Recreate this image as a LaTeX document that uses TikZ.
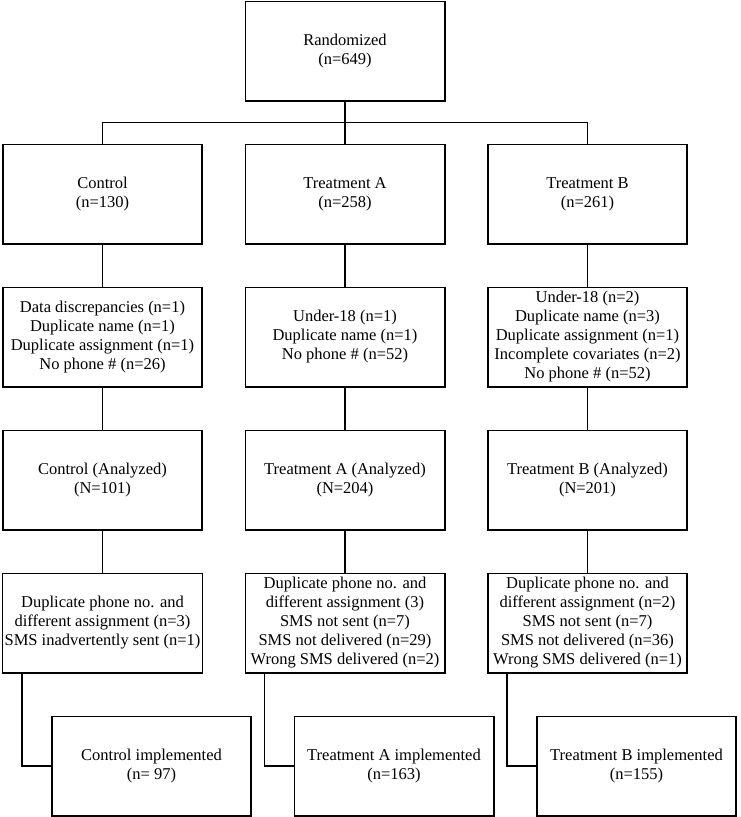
\documentclass[tikz,border=0pt]{standalone}
\usepackage{fontspec}
\setmainfont{Liberation Serif}
\usepackage{tikz}
\usetikzlibrary{positioning}

\begin{document}
\begin{tikzpicture}[
 box/.style={draw=black,line width=1.6pt,fill=white,align=center,
 font=\fontsize{16.5}{19}\selectfont,minimum width=199.4pt,minimum height=99.4pt,inner sep=2pt},
 link/.style={line width=1.6pt,black},node distance=42pt and 41.5pt]
\useasboundingbox (0pt,0pt) rectangle (741pt,-817pt);
\node[box] (rand) at (345pt,-51pt) {Randomized\\(n=649)};
\node[box,below=of rand] (ta) {Treatment A\\(n=258)};
\node[box,left=of ta] (ctrl) {Control\\(n=130)};
\node[box,right=of ta] (tb) {Treatment B\\(n=261)};
\coordinate[below=21pt of rand] (split);
% exclusions
\node[box,below=of ctrl] (cexcl) {Data discrepancies (n=1)\\Duplicate name (n=1)\\Duplicate assignment (n=1)\\No phone \# (n=26)};
\node[box,below=of ta] (aexcl) {Under-18 (n=1)\\Duplicate name (n=1)\\No phone \# (n=52)};
\node[box,below=of tb] (bexcl) {Under-18 (n=2)\\Duplicate name (n=3)\\Duplicate assignment (n=1)\\Incomplete covariates (n=2)\\No phone \# (n=52)};
% analyzed
\node[box,below=of cexcl] (cana) {Control (Analyzed)\\(N=101)};
\node[box,below=of aexcl] (aana) {Treatment A (Analyzed)\\(N=204)};
\node[box,below=of bexcl] (bana) {Treatment B (Analyzed)\\(N=201)};
% sms problems
\node[box,below=of cana] (csms) {Duplicate phone no. and\\different assignment (n=3)\\SMS inadvertently sent (n=1)};
\node[box,below=of aana] (asms) {Duplicate phone no. and\\different assignment (3)\\SMS not sent (n=7)\\SMS not delivered (n=29)\\Wrong SMS delivered (n=2)};
\node[box,below=of bana] (bsms) {Duplicate phone no. and\\different assignment (n=2)\\SMS not sent (n=7)\\SMS not delivered (n=36)\\Wrong SMS delivered (n=1)};
% implemented
\node[box,below=of csms,xshift=49pt] (cimp) {Control implemented\\(n= 97)};
\node[box,below=of asms,xshift=49pt] (aimp) {Treatment A implemented\\(n=163)};
\node[box,below=of bsms,xshift=49pt] (bimp) {Treatment B implemented\\(n=155)};
\draw[link] (rand) -- (ta);
\draw[link] (ctrl.north) |- (split) -| (tb.north);
\draw[link] (ctrl) -- (cexcl);
\draw[link] (ta) -- (aexcl);
\draw[link] (tb) -- (bexcl);
\draw[link] (cexcl) -- (cana);
\draw[link] (aexcl) -- (aana);
\draw[link] (bexcl) -- (bana);
\draw[link] (cana) -- (csms);
\draw[link] (aana) -- (asms);
\draw[link] (bana) -- (bsms);
\draw[link] ([xshift=20pt]csms.south west) |- (cimp.west);
\draw[link] ([xshift=20pt]asms.south west) |- (aimp.west);
\draw[link] ([xshift=20pt]bsms.south west) |- (bimp.west);
\end{tikzpicture}
\end{document}
